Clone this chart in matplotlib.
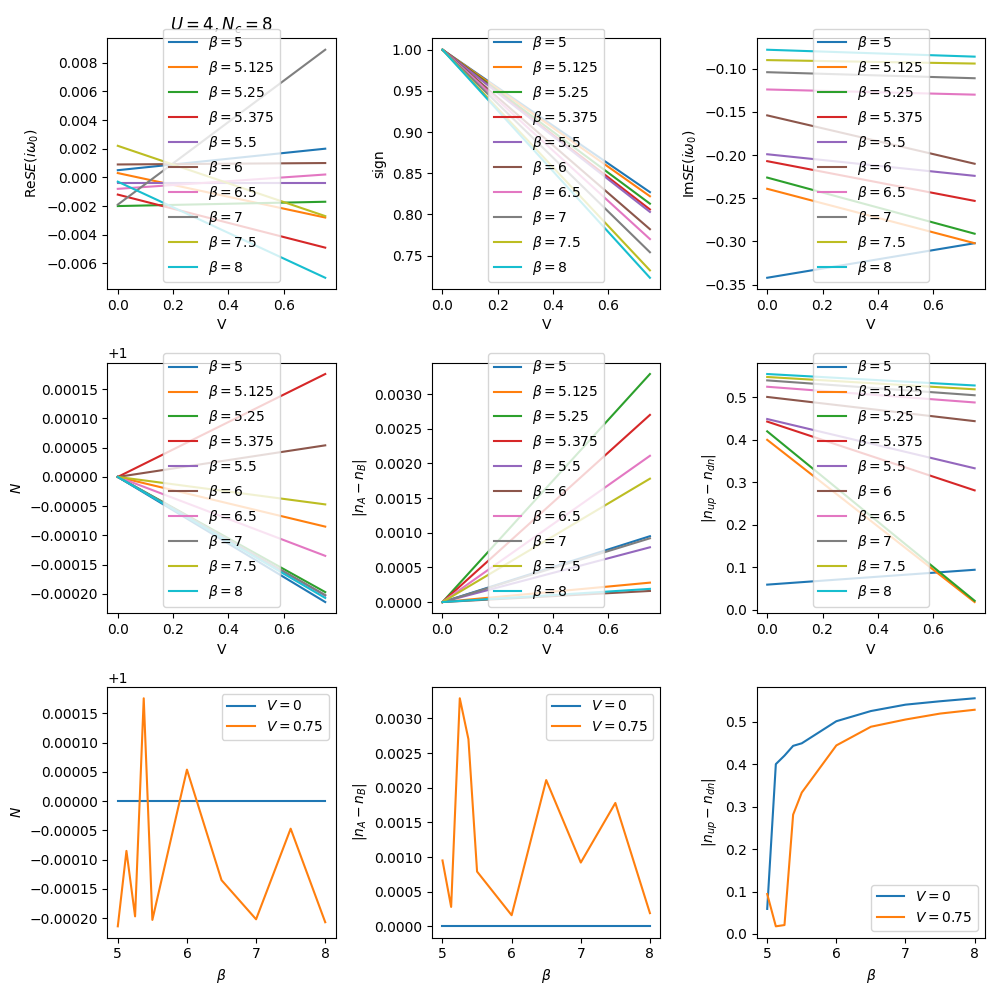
import matplotlib
matplotlib.use("Agg")
import matplotlib.pyplot as plt
import numpy as np

betas = [5, 5.125, 5.25, 5.375, 5.5, 6, 6.5, 7, 7.5, 8]
beta_labels = ["5", "5.125", "5.25", "5.375", "5.5", "6", "6.5", "7", "7.5", "8"]
Vs = [0, 0.75]

# values at V=0 and V=0.75 for each beta
re_se_v0 = [0.0005, 0.0003, -0.0020, -0.0012, -0.0004, 0.0009, -0.0008, -0.0019, 0.0022, -0.0003]
re_se_v75 = [0.0020, -0.0028, -0.0017, -0.0049, -0.0004, 0.0010, 0.0002, 0.0089, -0.0027, -0.0070]

sign_v0 = [1.0, 1.0, 1.0, 1.0, 1.0, 1.0, 1.0, 1.0, 1.0, 1.0]
sign_v75 = [0.827, 0.822, 0.813, 0.806, 0.803, 0.782, 0.770, 0.754, 0.732, 0.723]

im_se_v0 = [-0.342, -0.239, -0.226, -0.207, -0.199, -0.154, -0.124, -0.104, -0.090, -0.078]
im_se_v75 = [-0.302, -0.302, -0.291, -0.253, -0.224, -0.210, -0.130, -0.111, -0.094, -0.086]

N_v0 = [1.0, 1.0, 1.0, 1.0, 1.0, 1.0, 1.0, 1.0, 1.0, 1.0]
N_v75 = [1 - 0.000214, 1 - 0.000085, 1 - 0.000197, 1 + 0.000176, 1 - 0.000203,
         1 + 0.000054, 1 - 0.000135, 1 - 0.000202, 1 - 0.000047, 1 - 0.000207]

nab_v0 = [0.0, 0.0, 0.0, 0.0, 0.0, 0.0, 0.0, 0.0, 0.0, 0.0]
nab_v75 = [0.00095, 0.00028, 0.00329, 0.00270, 0.00079, 0.00016, 0.00211, 0.00092, 0.00178, 0.00019]

mag_v0 = [0.059, 0.400, 0.420, 0.443, 0.449, 0.501, 0.525, 0.540, 0.548, 0.555]
mag_v75 = [0.094, 0.018, 0.021, 0.281, 0.333, 0.444, 0.488, 0.505, 0.519, 0.528]

quantities = [
    (re_se_v0, re_se_v75, r"Re$SE(i\omega_0)$"),
    (sign_v0, sign_v75, "sign"),
    (im_se_v0, im_se_v75, r"Im$SE(i\omega_0)$"),
    (N_v0, N_v75, r"$N$"),
    (nab_v0, nab_v75, r"$|n_A-n_B|$"),
    (mag_v0, mag_v75, r"$|n_{up}-n_{dn}|$"),
]

fig, axes = plt.subplots(3, 3, figsize=(10, 10))

for k, (q0, q75, ylab) in enumerate(quantities):
    ax = axes.flat[k]
    for i, lab in enumerate(beta_labels):
        ax.plot(Vs, [q0[i], q75[i]], label=r"$\beta=" + lab + "$")
    ax.set_xlabel("V")
    ax.set_ylabel(ylab)
    leg = ax.legend(loc="lower center")
    leg.set_in_layout(False)

axes[0, 0].set_title(r"$U=4, N_c=8$")

bottom = [(N_v0, N_v75, r"$N$", "upper right"),
          (nab_v0, nab_v75, r"$|n_A-n_B|$", "upper right"),
          (mag_v0, mag_v75, r"$|n_{up}-n_{dn}|$", "lower right")]
for k, (q0, q75, ylab, loc) in enumerate(bottom):
    ax = axes[2, k]
    ax.plot(betas, q0, label=r"$V=0$")
    ax.plot(betas, q75, label=r"$V=0.75$")
    ax.set_xlabel(r"$\beta$")
    ax.set_ylabel(ylab)
    ax.legend(loc=loc)

plt.tight_layout()
plt.savefig("out.png", dpi=100)
